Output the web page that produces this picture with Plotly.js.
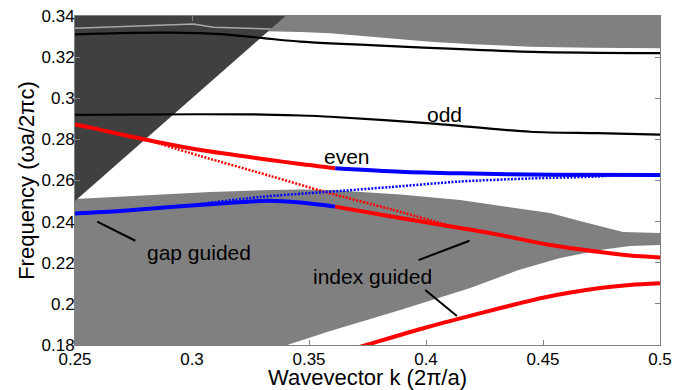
<!DOCTYPE html>
<html>
<head>
<meta charset="utf-8">
<script src="https://cdn.plot.ly/plotly-3.0.1.min.js"></script>
<style>
  html, body { margin: 0; padding: 0; background: #ffffff; }
  #chart { width: 674px; height: 390px; }
</style>
</head>
<body>
<div id="chart"></div>
<script>
// Axis ticks
const xTickVals = [0.25, 0.3, 0.35, 0.4, 0.45, 0.5];
const xTickText = ['0.25', '0.3', '0.35', '0.4', '0.45', '0.5'];
const yTickVals = [0.18, 0.2, 0.22, 0.24, 0.26, 0.28, 0.3, 0.32, 0.34];
const yTickText = ['0.18', '0.2', '0.22', '0.24', '0.26', '0.28', '0.3', '0.32', '0.34'];

// Light cone (omega > k)
const coneK = [0.25, 0.34, 0.25];
const coneW = [0.25, 0.34, 0.34];

// Upper continuum: lower edge (top edge is the axis limit 0.34)
const upperEdgeK = [0.25, 0.333, 0.3463, 0.3591, 0.38, 0.4018, 0.42, 0.4445, 0.47, 0.5];
const upperEdgeW = [0.3345, 0.3327, 0.3322, 0.3316, 0.3297, 0.3275, 0.3263, 0.3251, 0.3246, 0.3243];

// Lower continuum: top edge (left to right) and bottom edge (right to left)
const lowerTopK = [0.25, 0.2822, 0.3079, 0.3335, 0.3463, 0.3591, 0.389, 0.4146, 0.4317, 0.453, 0.4658, 0.4744, 0.4842, 0.5];
const lowerTopW = [0.2510, 0.2530, 0.2544, 0.2554, 0.2556, 0.2554, 0.2532, 0.2505, 0.2477, 0.2442, 0.2403, 0.2379, 0.2350, 0.2345];
const lowerBotK = [0.5, 0.4872, 0.4744, 0.4573, 0.4389, 0.4189, 0.389, 0.3591, 0.3407, 0.33, 0.25];
const lowerBotW = [0.2286, 0.2281, 0.2262, 0.2223, 0.2162, 0.2077, 0.1970, 0.1868, 0.1800, 0.1755, 0.1755];

// Band inside the light cone
const coneBandK = [0.25, 0.2723, 0.29, 0.3006, 0.3091, 0.32, 0.3337];
const coneBandW = [0.3340, 0.3348, 0.3356, 0.3361, 0.3345, 0.3341, 0.3337];

// Odd bands
const oddTopK = [0.25, 0.2694, 0.2908, 0.3121, 0.3305, 0.3463, 0.3591, 0.3719, 0.3988, 0.4458, 0.5];
const oddTopW = [0.3311, 0.3317, 0.3319, 0.3312, 0.3292, 0.3275, 0.3267, 0.3261, 0.3246, 0.3226, 0.3219];
const oddK = [0.25, 0.2822, 0.3249, 0.3463, 0.3591, 0.4018, 0.4445, 0.4731, 0.5];
const oddW = [0.2919, 0.2921, 0.2922, 0.2916, 0.2910, 0.2878, 0.2837, 0.2830, 0.2823];

// Even bands: index-guided (red) and gap-guided (blue) segments
const evenUpRedK = [0.25, 0.2566, 0.281, 0.3036, 0.3335, 0.3463, 0.3612];
const evenUpRedW = [0.2872, 0.2857, 0.2797, 0.2748, 0.2700, 0.2680, 0.2660];
const evenUpBlueK = [0.3612, 0.389, 0.4146, 0.453, 0.5];
const evenUpBlueW = [0.2660, 0.2643, 0.2635, 0.2628, 0.2627];
const evenLoBlueK = [0.25, 0.2694, 0.2908, 0.3121, 0.3322, 0.3463, 0.3612];
const evenLoBlueW = [0.2440, 0.2452, 0.2471, 0.2488, 0.2501, 0.2493, 0.2473];
const evenLoRedK = [0.3612, 0.389, 0.4146, 0.4317, 0.453, 0.4744, 0.4872, 0.5];
const evenLoRedW = [0.2473, 0.2418, 0.2369, 0.2335, 0.2286, 0.2252, 0.2235, 0.2226];
const lowestRedK = [0.37, 0.3745, 0.40, 0.42, 0.45, 0.4744, 0.4872, 0.5];
const lowestRedW = [0.1785, 0.1800, 0.1885, 0.1945, 0.2030, 0.2077, 0.2092, 0.2100];

// Uncoupled bands (dotted)
const dotRedK = [0.281, 0.3036, 0.3335, 0.357, 0.3847, 0.4091];
const dotRedW = [0.2797, 0.2719, 0.2622, 0.2544, 0.2461, 0.2384];
const dotBlueK = [0.3036, 0.3292, 0.357, 0.3847, 0.4146, 0.4445, 0.4722, 0.48];
const dotBlueW = [0.2486, 0.2520, 0.2544, 0.2568, 0.2595, 0.2610, 0.2619, 0.2625];

// Labels and pointer lines
const labelText = ['odd', 'even', 'gap guided', 'index guided'];
const labelK = [0.4078, 0.3664, 0.3029, 0.3773];
const labelW = [0.2919, 0.2719, 0.2252, 0.2132];
const pointerK = [[0.2595, 0.2758], [0.3968, 0.4186], [0.3997, 0.4132]];
const pointerW = [[0.2400, 0.2307], [0.2213, 0.2307], [0.2067, 0.1941]];

const FONT = 'Liberation Sans, Arial, sans-serif';
const GRAY = '#808080';
const DARK = '#404040';

function fillTrace(xs, ys, color) {
  return { x: xs, y: ys, type: 'scatter', mode: 'lines', fill: 'toself',
           fillcolor: color, line: { width: 0, color: color }, hoverinfo: 'skip', showlegend: false };
}
function lineTrace(xs, ys, color, width, dash, shape) {
  return { x: xs, y: ys, type: 'scatter', mode: 'lines',
           line: { color: color, width: width, dash: dash || 'solid', shape: shape || 'spline', smoothing: 0.8 },
           hoverinfo: 'skip', showlegend: false };
}

const upperPolyK = upperEdgeK.concat([0.5, 0.25]);
const upperPolyW = upperEdgeW.concat([0.345, 0.345]);
const lowerPolyK = lowerTopK.concat(lowerBotK);
const lowerPolyW = lowerTopW.concat(lowerBotW);

const traces = [
  fillTrace(upperPolyK, upperPolyW, GRAY),
  fillTrace(lowerPolyK, lowerPolyW, GRAY),
  fillTrace(coneK, coneW, DARK),
  lineTrace(coneBandK, coneBandW, '#a8a8a8', 1.5, 'solid', 'linear'),
  lineTrace(oddTopK, oddTopW, '#000000', 2.2),
  lineTrace(oddK, oddW, '#000000', 2.2),
  lineTrace(dotRedK, dotRedW, '#ff0000', 2.5, '2px,1.5px'),
  lineTrace(dotBlueK, dotBlueW, '#0000ff', 2.5, '2px,1.5px'),
  lineTrace(evenUpRedK, evenUpRedW, '#ff0000', 4),
  lineTrace(evenUpBlueK, evenUpBlueW, '#0000ff', 4),
  lineTrace(evenLoBlueK, evenLoBlueW, '#0000ff', 4),
  lineTrace(evenLoRedK, evenLoRedW, '#ff0000', 4),
  lineTrace(lowestRedK, lowestRedW, '#ff0000', 4)
];
pointerK.forEach(function (pk, i) {
  traces.push(lineTrace(pk, pointerW[i], '#000000', 2, 'solid', 'linear'));
});

const annotations = labelText.map(function (t, i) {
  return { x: labelK[i], y: labelW[i], xref: 'x', yref: 'y', text: t, showarrow: false,
           xanchor: 'center', yanchor: 'middle', font: { family: FONT, size: 21, color: '#000000' } };
});

const axisCommon = {
  showgrid: false, zeroline: false, showline: true, linecolor: GRAY, linewidth: 1,
  mirror: 'ticks', ticks: 'inside', ticklen: 5, tickwidth: 1, tickcolor: GRAY,
  tickfont: { family: FONT, size: 17, color: '#000000' }
};

const layout = {
  width: 674, height: 390,
  margin: { l: 75, r: 14, t: 16, b: 45 },
  paper_bgcolor: '#ffffff', plot_bgcolor: '#ffffff',
  showlegend: false,
  xaxis: Object.assign({}, axisCommon, {
    range: [0.25, 0.5], tickvals: xTickVals, ticktext: xTickText,
    ticklabelstandoff: -1,
    title: { text: 'Wavevector k (2π/a)', font: { family: FONT, size: 22, color: '#000000' }, standoff: 5 }
  }),
  yaxis: Object.assign({}, axisCommon, {
    range: [0.18, 0.34], tickvals: yTickVals, ticktext: yTickText,
    ticklabelstandoff: -4,
    title: { text: 'Frequency (ωa/2πc)', font: { family: FONT, size: 22, color: '#000000' }, standoff: 0 }
  }),
  annotations: annotations
};

Plotly.newPlot('chart', traces, layout, { displayModeBar: false, staticPlot: true });
</script>
</body>
</html>
